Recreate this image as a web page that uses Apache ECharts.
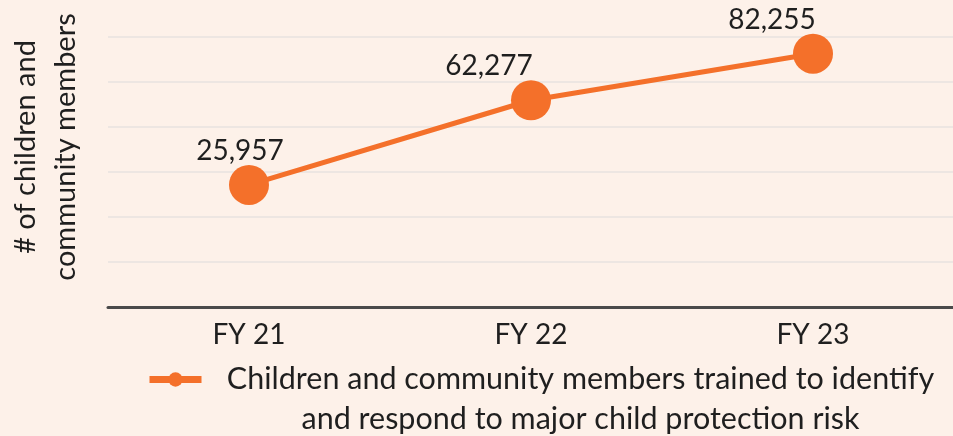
<!DOCTYPE html>
<html>
<head>
<meta charset="utf-8">
<script src="https://cdn.jsdelivr.net/npm/echarts@6/dist/echarts.min.js"></script>
<style>
  html, body { margin: 0; padding: 0; background: #fdf1e9; }
  #chart { width: 953px; height: 436px; }
</style>
</head>
<body>
<div id="chart"></div>
<script>
// 数据
const years = ['FY 21', 'FY 22', 'FY 23'];
const trained = [25957, 62277, 82255];
const seriesName = 'Children and community members trained to identify\nand respond to major child protection risk';

// 标签水平偏移（与数据分开）
const labelShift = [-9, -42, -41];

const ORANGE = '#f4702a';
const TEXT = '#1f1f1f';
const FONT = 'Lato, "Open Sans", sans-serif';

const chart = echarts.init(document.getElementById('chart'));

const option = {
    backgroundColor: '#fdf1e9',
    animation: false,
    grid: {
        left: 108,
        right: -1,
        top: 37,
        bottom: 129,
        containLabel: false,
        outerBoundsMode: 'none'
    },
    legend: {
        left: 146,
        top: 364,
        padding: 0,
        itemWidth: 52,
        itemHeight: 18,
        data: [seriesName],
        lineStyle: { width: 7 },
        formatter: function (name) {
            return name.split('\n').map(s => '{a|' + s + '}').join('\n');
        },
        textStyle: {
            color: TEXT,
            fontFamily: FONT,
            fontSize: 30.5,
            padding: [40, 0, 0, 0],
            rich: {
                a: {
                    width: 748,
                    align: 'center',
                    fontSize: 30.5,
                    lineHeight: 40,
                    fontFamily: FONT,
                    color: TEXT
                }
            }
        }
    },
    xAxis: {
        type: 'category',
        data: years,
        boundaryGap: true,
        axisLine: { onZero: false, lineStyle: { color: '#4a4a4a', width: 3 } },
        axisTick: { show: false },
        axisLabel: {
            color: TEXT,
            fontFamily: FONT,
            fontSize: 28,
            margin: 14
        }
    },
    yAxis: {
        type: 'value',
        min: -26400,
        max: 89400,
        interval: 19300,
        name: '# of children and\ncommunity members',
        nameLocation: 'middle',
        nameRotate: 90,
        nameGap: 22,
        nameTextStyle: {
            color: TEXT,
            fontFamily: FONT,
            fontSize: 29,
            lineHeight: 40,
            padding: [0, 0, 0, 50]
        },
        axisLine: { show: false },
        axisTick: { show: false },
        axisLabel: { show: false },
        splitLine: { lineStyle: { color: '#ede6e2', width: 2 } }
    },
    series: [{
        name: seriesName,
        type: 'line',
        data: trained.map((v, i) => ({
            value: v,
            label: { offset: [labelShift[i], 0] }
        })),
        symbol: 'circle',
        symbolSize: 40,
        lineStyle: { color: ORANGE, width: 5 },
        itemStyle: { color: ORANGE },
        label: {
            show: true,
            position: 'top',
            distance: 0,
            color: TEXT,
            fontFamily: FONT,
            fontSize: 28,
            formatter: p => p.value.toLocaleString('en-US')
        }
    }]
};

chart.setOption(option);
</script>
</body>
</html>
